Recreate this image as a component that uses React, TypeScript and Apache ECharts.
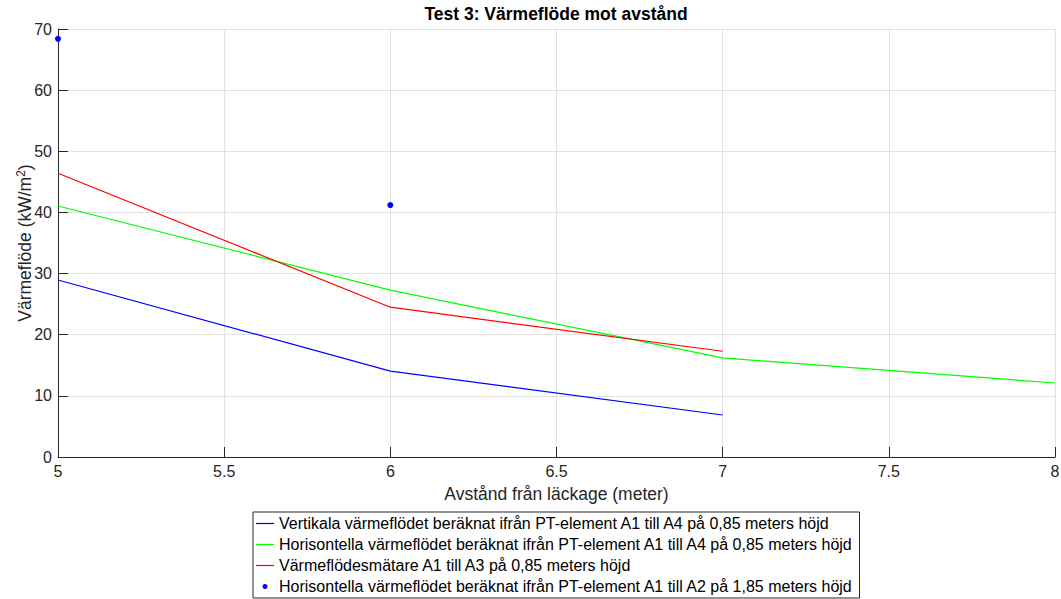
import React, { useEffect, useRef } from "react";
import * as echarts from "echarts";

// Distance from the leak (meters)
const distances = [5, 6, 7, 8];

const seriesNames = [
  "Vertikala värmeflödet beräknat ifrån PT-element A1 till A4 på 0,85 meters höjd",
  "Horisontella värmeflödet beräknat ifrån PT-element A1 till A4 på 0,85 meters höjd",
  "Värmeflödesmätare A1 till A3 på 0,85 meters höjd",
  "Horisontella värmeflödet beräknat ifrån PT-element A1 till A2 på 1,85 meters höjd",
];

// Heat flux values (kW/m²)
const verticalA1A4 = [28.95, 14.05, 6.87];
const horizontalA1A4 = [41.05, 27.3, 16.2, 12.1];
const meterA1A3 = [46.4, 24.5, 17.3];
const horizontalA1A2 = [68.4, 41.2];

const pairs = (vals: number[]) => vals.map((v, i) => [distances[i], v]);

const axisColor = "#262626";
const gridColor = "#e2e2e2";
const font = "Liberation Sans, Arial, Helvetica, sans-serif";
const lineIcon = "path://M0,0h18v1.2h-18z";

export default function App() {
  const ref = useRef<HTMLDivElement>(null);

  useEffect(() => {
    if (!ref.current) return;
    const chart = echarts.init(ref.current, undefined, { renderer: "svg" });
    chart.setOption({
      animation: false,
      backgroundColor: "#ffffff",
      textStyle: { fontFamily: font },
      title: {
        text: "Test 3: Värmeflöde mot avstånd",
        left: 556,
        textAlign: "center",
        top: 5,
        padding: 0,
        textStyle: { fontSize: 17.5, fontWeight: "bold", color: "#000", fontFamily: font },
      },
      grid: {
        left: 58,
        right: 6,
        top: 29,
        bottom: 142,
        containLabel: false,
        outerBoundsMode: "none",
      },
      xAxis: {
        type: "value",
        min: 5,
        max: 8,
        interval: 0.5,
        name: "Avstånd från läckage (meter)",
        nameLocation: "middle",
        nameGap: 28,
        nameTextStyle: { fontSize: 17.5, color: axisColor, fontFamily: font },
        axisLine: { show: true, onZero: false, lineStyle: { color: axisColor, width: 1 } },
        axisTick: { show: true, inside: true, length: 10, lineStyle: { color: axisColor } },
        axisLabel: { fontSize: 16, color: axisColor, margin: 6, fontFamily: font },
        splitLine: { show: true, lineStyle: { color: gridColor, width: 1 } },
      },
      yAxis: {
        type: "value",
        min: 0,
        max: 70,
        interval: 10,
        name: "Värmeflöde (kW/m{sup|2})",
        nameLocation: "middle",
        nameGap: 23,
        nameMoveOverlap: false,
        nameTextStyle: {
          fontSize: 17.5,
          color: axisColor,
          fontFamily: font,
          rich: {
            sup: { fontSize: 12, verticalAlign: "top", color: axisColor, fontFamily: font, padding: [0, 0, 8, 0] },
          },
        },
        axisLine: { show: true, lineStyle: { color: axisColor, width: 1 } },
        axisTick: { show: true, inside: true, length: 10, lineStyle: { color: axisColor } },
        axisLabel: { fontSize: 16, color: axisColor, margin: 6, fontFamily: font },
        splitLine: { show: true, lineStyle: { color: gridColor, width: 1 } },
      },
      legend: {
        orient: "vertical",
        left: 253,
        top: 512,
        padding: [3, 6, 3, 3],
        itemWidth: 18,
        itemHeight: 5,
        itemGap: 4,
        borderColor: axisColor,
        borderWidth: 1,
        backgroundColor: "#fff",
        textStyle: { fontSize: 16, lineHeight: 17, color: "#000", fontFamily: font },
        data: [
          { name: seriesNames[0], icon: lineIcon },
          { name: seriesNames[1], icon: lineIcon },
          { name: seriesNames[2], icon: lineIcon },
          { name: seriesNames[3], icon: "circle" },
        ],
      },
      series: [
        {
          name: seriesNames[0],
          type: "line",
          data: pairs(verticalA1A4),
          symbol: "none",
          lineStyle: { color: "#0000ff", width: 1.2 },
          itemStyle: { color: "#0000ff" },
        },
        {
          name: seriesNames[1],
          type: "line",
          data: pairs(horizontalA1A4),
          symbol: "none",
          lineStyle: { color: "#00ff00", width: 1.2 },
          itemStyle: { color: "#00ff00" },
        },
        {
          name: seriesNames[2],
          type: "line",
          data: pairs(meterA1A3),
          symbol: "none",
          lineStyle: { color: "#ff0000", width: 1.2 },
          itemStyle: { color: "#ff0000" },
        },
        {
          name: seriesNames[3],
          type: "scatter",
          data: pairs(horizontalA1A2),
          symbol: "circle",
          symbolSize: 6,
          itemStyle: { color: "#0000ff", opacity: 1 },
        },
      ],
    });
    return () => chart.dispose();
  }, []);

  return <div ref={ref} style={{ width: 1061, height: 599, position: "absolute", left: 0, top: 0 }} />;
}
